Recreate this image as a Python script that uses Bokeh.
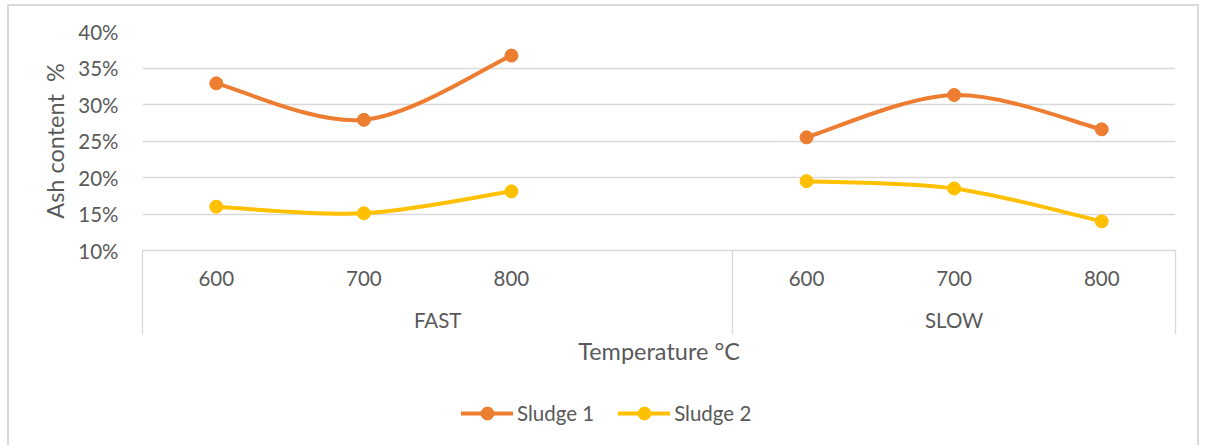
from bokeh.plotting import figure
from bokeh.layouts import column
from bokeh.models import (Range1d, LinearAxis, FixedTicker, NumeralTickFormatter,
                          ColumnDataSource, Legend, LegendItem, Bezier)
from bokeh.embed import file_html
from bokeh.resources import INLINE

# ---- data ----
groups = ["FAST", "SLOW"]
temps = ["600", "700", "800"]
sludge1 = [0.329, 0.279, 0.367, 0.255, 0.313, 0.266]
sludge2 = [0.160, 0.151, 0.181, 0.195, 0.185, 0.140]
y_ticks = [0.10, 0.15, 0.20, 0.25, 0.30, 0.35, 0.40]
series_names = ["Sludge 1", "Sludge 2"]
colors = ["#ED7D31", "#FFC000"]

FONT = "Lato"
TXT = "#595959"
GRID = "#D9D9D9"
TICK_FS = "20.5px"
TITLE_FS = "23.5px"

# category slots: FAST 600/700/800 + one empty slot, then SLOW 600/700/800
slots = [("FAST", t) for t in temps] + [("FAST", "")] + [("SLOW", t) for t in temps]
pts = [(g, t) for g in groups for t in temps]
centers = {s: slots.index(s) + 0.5 for s in slots}
pt_x = [centers[pt] for pt in pts]
group_bounds = {g: ([slots.index(s) for s in slots if s[0] == g][0],
                    [slots.index(s) for s in slots if s[0] == g][-1] + 1) for g in groups}

p = figure(width=1192, height=370, output_backend="svg", toolbar_location=None,
           x_range=Range1d(0, len(slots)), y_range=Range1d(0.10, 0.40),
           x_axis_type=None,
           min_border_left=133, min_border_right=26, min_border_top=25, min_border_bottom=126)
p.styles = {"border-top": "2px solid #D9D9D9", "border-left": "2px solid #D9D9D9",
            "border-right": "2px solid #D9D9D9", "margin-left": "7px", "margin-top": "4px"}
p.outline_line_color = None
p.background_fill_color = "white"
p.border_fill_color = "white"
p.ygrid.grid_line_color = GRID
p.ygrid.grid_line_width = 1.3
p.ygrid.ticker = FixedTicker(ticks=y_ticks)

# y axis
ya = p.yaxis[0]
ya.ticker = FixedTicker(ticks=y_ticks)
ya.formatter = NumeralTickFormatter(format="0%")
ya.axis_line_color = None
ya.major_tick_line_color = None
ya.minor_tick_line_color = None
ya.major_tick_out = 0
ya.minor_tick_out = 0
ya.major_label_text_font = FONT
ya.major_label_text_font_size = TICK_FS
ya.major_label_text_color = TXT
ya.major_label_standoff = 24
ya.axis_label = "Ash content\u00a0 %"
ya.axis_label_text_font = FONT
ya.axis_label_text_font_size = TITLE_FS
ya.axis_label_text_font_style = "normal"
ya.axis_label_text_color = TXT
ya.axis_label_standoff = 6


def plain_axis(**kw):
    ax = LinearAxis(**kw)
    ax.major_tick_out = 0
    ax.major_tick_in = 0
    ax.minor_tick_out = 0
    ax.minor_tick_in = 0
    ax.minor_tick_line_color = None
    ax.major_tick_line_color = None
    ax.axis_line_color = None
    ax.major_label_text_font = FONT
    ax.major_label_text_font_size = TICK_FS
    ax.major_label_text_color = TXT
    return ax


# temperature labels
ax1 = plain_axis(ticker=FixedTicker(ticks=pt_x),
                 major_label_overrides={centers[pt]: pt[1] for pt in pts})
ax1.axis_line_color = GRID
ax1.axis_line_width = 1.3
ax1.major_label_standoff = 20
p.add_layout(ax1, "below")

# group labels
grp_ticks = [(group_bounds[g][0] + group_bounds[g][1]) / 2 for g in groups]
ax2 = plain_axis(ticker=FixedTicker(ticks=grp_ticks),
                 major_label_overrides={(group_bounds[g][0] + group_bounds[g][1]) / 2: g
                                        for g in groups})
ax2.major_label_standoff = 19
p.add_layout(ax2, "below")

# box separators + axis title
bounds = sorted({b for g in groups for b in group_bounds[g]})
ax3 = plain_axis(ticker=FixedTicker(ticks=bounds),
                 major_label_overrides={b: "" for b in bounds})
ax3.major_tick_line_color = GRID
ax3.major_tick_line_width = 1.3
ax3.major_tick_in = 84
ax3.major_label_text_font_size = "0px"
ax3.major_label_standoff = 0
ax3.axis_label = "Temperature \u00b0C"
ax3.axis_label_text_font = FONT
ax3.axis_label_text_font_size = TITLE_FS
ax3.axis_label_text_font_style = "normal"
ax3.axis_label_text_color = TXT
ax3.axis_label_standoff = 2
p.add_layout(ax3, "below")


def smooth(xs, ys):
    """Cubic Bezier segments (Catmull-Rom tangents) through the given points."""
    n = len(xs)
    seg = dict(x0=[], y0=[], x1=[], y1=[], cx0=[], cy0=[], cx1=[], cy1=[])
    for i in range(n - 1):
        xp, yp = (xs[i - 1], ys[i - 1]) if i > 0 else (xs[i], ys[i])
        xn, yn = (xs[i + 2], ys[i + 2]) if i + 2 < n else (xs[i + 1], ys[i + 1])
        seg["x0"].append(xs[i]); seg["y0"].append(ys[i])
        seg["x1"].append(xs[i + 1]); seg["y1"].append(ys[i + 1])
        seg["cx0"].append(xs[i] + (xs[i + 1] - xp) / 6)
        seg["cy0"].append(ys[i] + (ys[i + 1] - yp) / 6)
        seg["cx1"].append(xs[i + 1] - (xn - xs[i]) / 6)
        seg["cy1"].append(ys[i + 1] - (yn - ys[i]) / 6)
    return seg


for name, vals, col in zip(series_names, [sludge1, sludge2], colors):
    allseg = dict(x0=[], y0=[], x1=[], y1=[], cx0=[], cy0=[], cx1=[], cy1=[])
    for g in groups:
        idx = [k for k, pt in enumerate(pts) if pt[0] == g]
        s = smooth([pt_x[k] for k in idx], [vals[k] for k in idx])
        for key in allseg:
            allseg[key] += s[key]
    p.add_glyph(ColumnDataSource(allseg),
                Bezier(x0="x0", y0="y0", x1="x1", y1="y1", cx0="cx0", cy0="cy0",
                       cx1="cx1", cy1="cy1", line_color=col, line_width=4, line_cap="round"))
    p.scatter(x=pt_x, y=vals, size=13, color=col)

# legend strip below the chart (series drawn out of its view, only the legend shows)
q = figure(width=1192, height=71, output_backend="svg", toolbar_location=None,
           x_range=Range1d(0, len(slots)), y_range=Range1d(1, 2),
           x_axis_type=None, y_axis_type=None,
           min_border_left=6, min_border_right=0, min_border_top=8, min_border_bottom=0)
q.styles = {"border-left": "2px solid #D9D9D9", "border-right": "2px solid #D9D9D9",
            "margin-left": "7px"}
q.outline_line_color = None
q.xgrid.grid_line_color = None
q.ygrid.grid_line_color = None
q.background_fill_color = "white"
q.border_fill_color = "white"

items = []
for name, vals, col in zip(series_names, [sludge1, sludge2], colors):
    lr = q.line(x=pt_x, y=vals, line_color=col, line_width=4, line_cap="round")
    mr = q.scatter(x=pt_x, y=vals, size=13, color=col)
    items.append(LegendItem(label=name, renderers=[lr, mr]))

legend = Legend(items=items, orientation="horizontal", location=(319, 16),
                border_line_color=None, background_fill_alpha=0,
                glyph_width=52, glyph_height=32, label_standoff=4, spacing=24,
                label_text_font=FONT, label_text_font_size=TICK_FS, label_text_color=TXT,
                label_height=20, padding=0, margin=0)
q.add_layout(legend, "center")

layout = column(p, q, spacing=0)
open("out.html", "w").write(file_html(layout, INLINE))
